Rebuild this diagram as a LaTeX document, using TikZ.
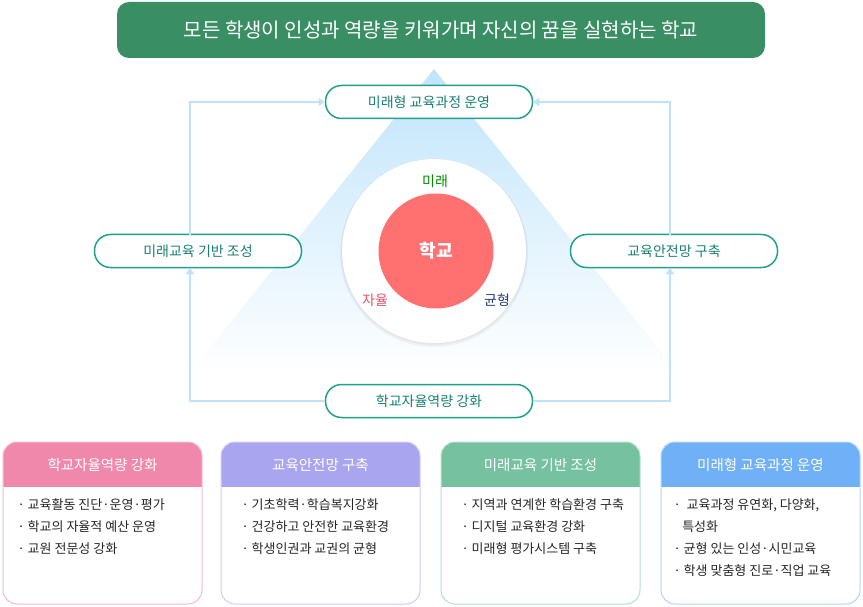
\documentclass[tikz,border=0pt]{standalone}
\usepackage{fontspec}
\setmainfont{Noto Sans CJK KR}
\usetikzlibrary{arrows.meta}
\definecolor{ttl}{HTML}{3A8E63}
\definecolor{teal}{HTML}{1FA08E}
\definecolor{lnk}{HTML}{BDE3F8}
\definecolor{tri}{HTML}{BFE4FB}
\definecolor{redc}{HTML}{FF7070}
\definecolor{pk}{HTML}{F088AC}\definecolor{pkl}{HTML}{F6B8CE}
\definecolor{pu}{HTML}{A9A5EE}\definecolor{pul}{HTML}{CFCCF6}
\definecolor{gr}{HTML}{76C2A0}\definecolor{grl}{HTML}{B4E0CC}
\definecolor{bl}{HTML}{6FB0F7}\definecolor{bll}{HTML}{B0D4FB}
\tikzset{
 x=1pt,y=-1pt,
 pill/.style={draw=teal,line width=1.5pt,fill=white,rounded corners=16pt,minimum width=207pt,minimum height=33pt,text=teal!80!black,font=\fontsize{14}{16}\selectfont},
 link/.style={draw=lnk,line width=1.5pt,-{Triangle[width=8pt,length=6pt]}},
 item/.style={anchor=north west,align=left,font=\fontsize{13}{22}\selectfont,text=black!85},
}
\newcommand{\card}[5]{%
 \fill[white,rounded corners=14pt] (#1,442) rectangle ++(199,162);
 \begin{scope}
 \clip[rounded corners=14pt] (#1,442) rectangle ++(199,162);
 \fill[#2] (#1,442) rectangle ++(199,45);
 \end{scope}
 \draw[#3,line width=1pt,rounded corners=14pt] (#1,442) rectangle ++(199,162);
 \node[text=white,font=\fontsize{14.5}{16}\selectfont] (#5) at (#1+99.5,465) {#4};}
\begin{document}
\begin{tikzpicture}
\useasboundingbox (0,0) rectangle (863,607);
\node[fill=ttl,rounded corners=12pt,minimum width=648pt,minimum height=56pt,text=white,font=\fontsize{20}{22}\selectfont] (title) at (441,30) {모든 학생이 인성과 역량을 키워가며 자신의 꿈을 실현하는 학교};
\shade[top color=tri,bottom color=white] (434,69) -- (680,375) -- (188,375) -- cycle;
\node[pill] (top) at (429,102) {미래형 교육과정 운영};
\node[pill] (left) at (198,251) {미래교육 기반 조성};
\node[pill] (right) at (674,251) {교육안전망 구축};
\node[pill] (bot) at (429,401) {학교자율역량 강화};
\coordinate (lb) at (190,268); \coordinate (rb) at (670,268);
\coordinate (lt) at (190,235); \coordinate (rt) at (670,235);
\draw[link] (bot.west) -| (lb);
\draw[link] (lt) |- (top.west);
\draw[link] (bot.east) -| (rb);
\draw[link] (rt) |- (top.east);
\fill[black,opacity=0.04] (434,253) circle (94);
\fill[black,opacity=0.04] (434,252) circle (93);
\node[circle,fill=white,minimum size=184pt,inner sep=0pt] (outer) at (434,251) {};
\node[circle,fill=redc,minimum size=115pt,text=white,font=\fontsize{18}{20}\selectfont\bfseries] (school) at (436,251) {학교};
\node[text=green!55!black,font=\fontsize{14}{16}\selectfont] (mirae) at (435,181) {미래};
\node[text={rgb,255:red,240;green,80;blue,110},font=\fontsize{14}{16}\selectfont] (jayul) at (375,300) {자율};
\node[text={rgb,255:red,31;green,62;blue,120},font=\fontsize{14}{16}\selectfont] (gyun) at (497,300) {균형};
\card{3}{pk}{pkl}{학교자율역량 강화}{c1}
\card{221}{pu}{pul}{교육안전망 구축}{c2}
\card{441}{gr}{grl}{미래교육 기반 조성}{c3}
\card{661}{bl}{bll}{미래형 교육과정 운영}{c4}
\node[item] (t1) at (14,495) {· 교육활동 진단·운영·평가\\· 학교의 자율적 예산 운영\\· 교원 전문성 강화};
\node[item] (t2) at (238,495) {· 기초학력·학습복지강화\\· 건강하고 안전한 교육환경\\· 학생인권과 교권의 균형};
\node[item] (t3) at (458,495) {· 지역과 연계한 학습환경 구축\\· 디지털 교육환경 강화\\· 미래형 평가시스템 구축};
\node[item] (t4) at (670,495) {·\ \ 교육과정 유연화, 다양화,\\\ \ \ 특성화\\· 균형 있는 인성·시민교육\\· 학생 맞춤형 진로·직업 교육};
\end{tikzpicture}
\end{document}
